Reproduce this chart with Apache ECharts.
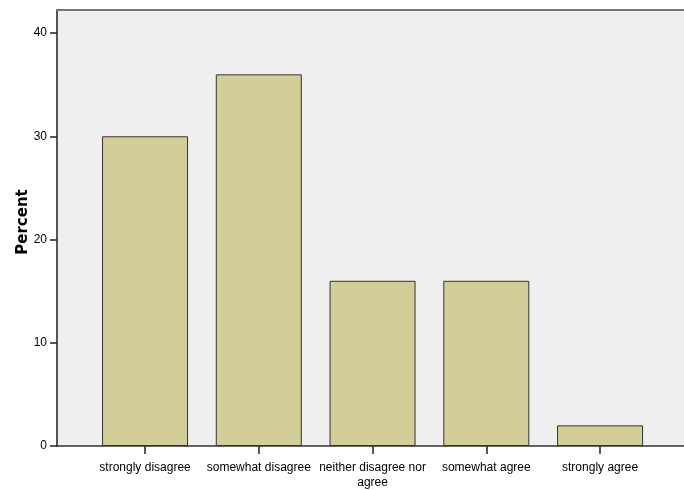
<!DOCTYPE html>
<html>
<head>
<meta charset="utf-8">
<script src="https://cdn.jsdelivr.net/npm/echarts@6/dist/echarts.min.js"></script>
<style>html,body{margin:0;padding:0;background:#fff}#c{width:684px;height:490px}</style>
</head>
<body>
<div id="c"></div>
<script>
const categories = ["strongly disagree", "somewhat disagree", "neither disagree nor\nagree", "somewhat agree", "strongly agree"];
const percentValues = [30, 36, 16, 16, 2];
const yTicks = [0, 10, 20, 30, 40];
const yAxisName = "Percent";

const catIdx = categories.map((c, i) => i);
const chart = echarts.init(document.getElementById('c'), null, {renderer: 'canvas'});
chart.setOption({
  animation: false,
  backgroundColor: '#ffffff',
  textStyle: {fontFamily: 'Liberation Sans'},
  grid: {left: 57, right: 0, top: 10, bottom: 44, outerBoundsMode: 'none', containLabel: false, show: true, backgroundColor: '#efefef', borderWidth: 0},
  xAxis: [{
    type: 'value', min: -0.774, max: 4.738,
    splitLine: {show: false},
    axisLine: {show: true, onZero: false, lineStyle: {color: '#333', width: 1.5}},
    axisTick: {show: true, customValues: catIdx, length: 8, lineStyle: {color: '#222', width: 1.5}},
    axisLabel: {
      customValues: catIdx, margin: 14, color: '#000', fontSize: 12, lineHeight: 15,
      fontFamily: 'Liberation Sans',
      formatter: v => categories[Math.round(v)]
    }
  }, {
    type: 'value', position: 'top', min: 0, max: 1,
    axisLine: {show: true, onZero: false, lineStyle: {color: '#777', width: 2}},
    axisTick: {show: false}, axisLabel: {show: false}, splitLine: {show: false}
  }],
  yAxis: {
    type: 'value', min: 0, max: 42.23, position: 'left',
    name: yAxisName, nameLocation: 'middle', nameGap: 26, nameRotate: 90, nameMoveOverlap: false,
    nameTextStyle: {fontFamily: 'DejaVu Sans', fontWeight: 'bold', fontSize: 15, color: '#000', padding: [0, 0, 0, 12]},
    splitLine: {show: false},
    axisLine: {show: true, onZero: false, lineStyle: {color: '#555', width: 2}},
    axisTick: {show: true, customValues: yTicks, length: 7, lineStyle: {color: '#222', width: 1.5}},
    axisLabel: {customValues: yTicks, margin: 10, color: '#000', fontSize: 12, fontFamily: 'Liberation Sans'}
  },
  series: [{
    type: 'bar',
    xAxisIndex: 0,
    barWidth: 86,
    data: percentValues.map((v, i) => [i, v]),
    itemStyle: {color: '#d3ce98', borderColor: '#333', borderWidth: 1}
  }]
});
</script>
</body>
</html>
